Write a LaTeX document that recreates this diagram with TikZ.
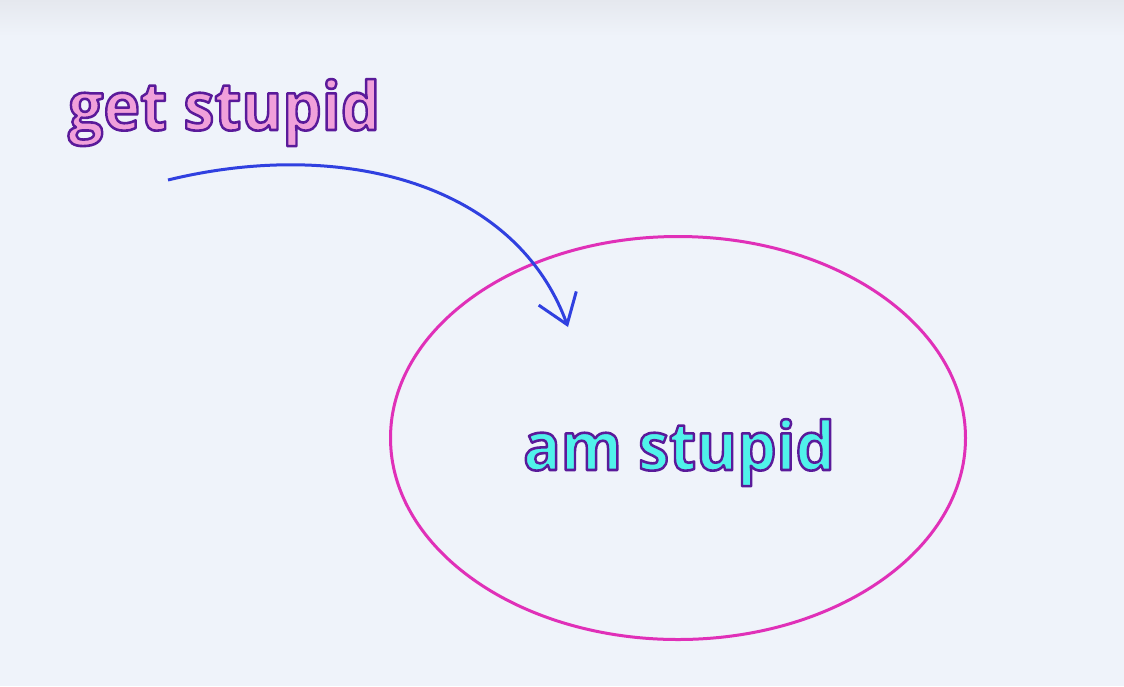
\documentclass[tikz,border=0pt]{standalone}
\usepackage{fontspec}
\setmainfont{Open Sans}
\usetikzlibrary{arrows.meta,shapes.geometric}
\definecolor{paper}{HTML}{EFF3FA}
\definecolor{topband}{HTML}{E5E8EE}
\definecolor{pinkfill}{HTML}{F0A0DA}
\definecolor{cyanfill}{HTML}{50F2EA}
\definecolor{ring}{HTML}{E030B8}
\definecolor{pen}{HTML}{3040E0}
% outline + fill via pdf text render mode 2
\newcommand{\outlined}[2]{\special{pdf:literal direct q}\textcolor{#1}{\special{pdf:literal direct 2 Tr 2.6 w 1 j 0.353 0.102 0.604 RG}#2}\special{pdf:literal direct Q}}
\tikzset{
  label text/.style={inner sep=0pt,font=\fontsize{67}{67}\selectfont\bfseries,xscale=0.93,transform shape},
  blob/.style={draw=ring,line width=3pt,ellipse,inner sep=0pt},
  bend arrow/.style={draw=pen,line width=3pt,-{Straight Barb[length=28pt,width=40pt]}}
}
\begin{document}
\begin{tikzpicture}[x=1pt,y=-1pt]
\useasboundingbox (0,0) rectangle (1124,686);
\fill[paper] (0,0) rectangle (1124,686);
\shade[top color=topband,bottom color=paper] (0,0) rectangle (1124,36);
\node[label text,anchor=base west] (get) at (68,130) {\outlined{pinkfill}{get stupid}};
\node[blob,minimum width=575pt,minimum height=403pt] (set) at (678,438) {};
\node[label text,anchor=base west] (am) at (523,470) {\outlined{cyanfill}{am stupid}};
\coordinate (start) at (168,180);
\coordinate (tip) at (568,327);
\draw[bend arrow] (start) .. controls (340,138) and (515,182) .. (tip);
\end{tikzpicture}
\end{document}
